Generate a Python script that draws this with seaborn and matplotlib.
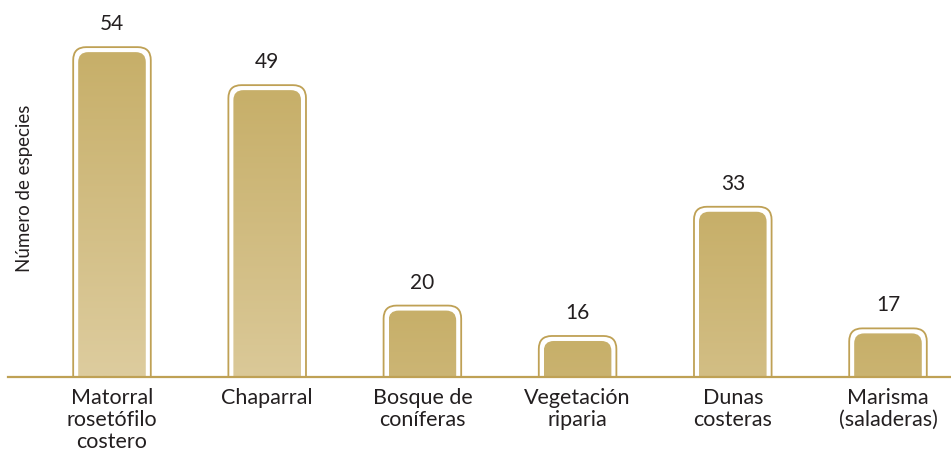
import numpy as np
import pandas as pd
import matplotlib
matplotlib.use("Agg")
import matplotlib.pyplot as plt
import matplotlib.colors as mcolors
from matplotlib.patches import FancyBboxPatch
import seaborn as sns

# Data
categorias = ["Matorral\nrosetófilo\ncostero", "Chaparral", "Bosque de\nconíferas",
              "Vegetación\nriparia", "Dunas\ncosteras", "Marisma\n(saladeras)"]
especies = [54, 49, 20, 16, 33, 17]

df = pd.DataFrame({"tipo": categorias, "especies": especies})

# Plot settings
sns.set_theme(style="white")
plt.rcParams["font.family"] = ["Lato", "DejaVu Sans"]
GOLD = "#bfa155"
TOP_COL = np.array(mcolors.to_rgb("#c7af69"))
BOT_COL = np.array(mcolors.to_rgb("#ddcc9e"))
TEXT_COL = "#231f20"

fig = plt.figure(figsize=(9.51, 4.58), dpi=100)
ax = fig.add_axes([8 / 951, 81.5 / 458, 943 / 951, 376.5 / 458])

sns.barplot(data=df, x="tipo", y="especies", color=GOLD, width=0.5, ax=ax)
ax.set_xlim(-0.67, 5.406)
ax.set_ylim(10.67, 60.2)

# pixel scale of the data units, used for rounded corners and insets
px_x = ax.transData.transform((1, 0))[0] - ax.transData.transform((0, 0))[0]
px_y = ax.transData.transform((0, 1))[1] - ax.transData.transform((0, 0))[1]
aspect = px_x / px_y

ymin = ax.get_ylim()[0]
for bar, val in zip(list(ax.patches), especies):
    x0, w, h = bar.get_x(), bar.get_width(), bar.get_height()
    bar.remove()
    bottom = ymin - 2
    r_out = 13 / px_x
    outer = FancyBboxPatch((x0 + r_out, bottom), w - 2 * r_out, h - bottom - r_out * aspect,
                           boxstyle=f"round,pad={r_out},rounding_size={r_out}",
                           mutation_aspect=aspect, facecolor="white",
                           edgecolor=GOLD, linewidth=1.3, zorder=2)
    ax.add_patch(outer)
    ins_x = 5 / px_x
    ins_y = 5 / px_y
    r_in = 10 / px_x
    xi0 = x0 + ins_x
    wi = w - 2 * ins_x
    top_i = h - ins_y
    inner = FancyBboxPatch((xi0 + r_in, bottom), wi - 2 * r_in, top_i - bottom - r_in * aspect,
                           boxstyle=f"round,pad={r_in},rounding_size={r_in}",
                           mutation_aspect=aspect, facecolor="none",
                           edgecolor="none", zorder=3)
    ax.add_patch(inner)
    # vertical gradient, lighter toward the bottom for the taller bars
    frac = (val - ymin) / (max(especies) - ymin)
    bot = TOP_COL + (BOT_COL - TOP_COL) * frac
    t = np.linspace(0, 1, 100)[:, None]
    grad = TOP_COL[None, :] * (1 - t) + bot[None, :] * t
    img = ax.imshow(grad[:, None, :], extent=(xi0, xi0 + wi, ymin, top_i),
                    aspect="auto", zorder=3, interpolation="bilinear")
    img.set_clip_path(inner)
    ax.text(x0 + w / 2, h + 23 / px_y, str(val), ha="center", va="center",
            fontsize=15, color=TEXT_COL, zorder=4)

ax.set_xlim(-0.67, 5.406)
ax.set_ylim(10.67, 60.2)

for s in ["top", "right", "left"]:
    ax.spines[s].set_visible(False)
ax.spines["bottom"].set_color(GOLD)
ax.spines["bottom"].set_linewidth(1.6)
ax.spines["bottom"].set_zorder(5)
ax.set_yticks([])
ax.tick_params(axis="x", length=0, pad=8, labelsize=15.5, labelcolor=TEXT_COL)
for lab in ax.get_xticklabels():
    lab.set_linespacing(1.15)
ax.set_xlabel("")
ax.set_ylabel("Número de especies", fontsize=13.5, color=TEXT_COL)
ax.yaxis.set_label_coords(0.026, 0.5)

fig.savefig("out.png", dpi=100)
